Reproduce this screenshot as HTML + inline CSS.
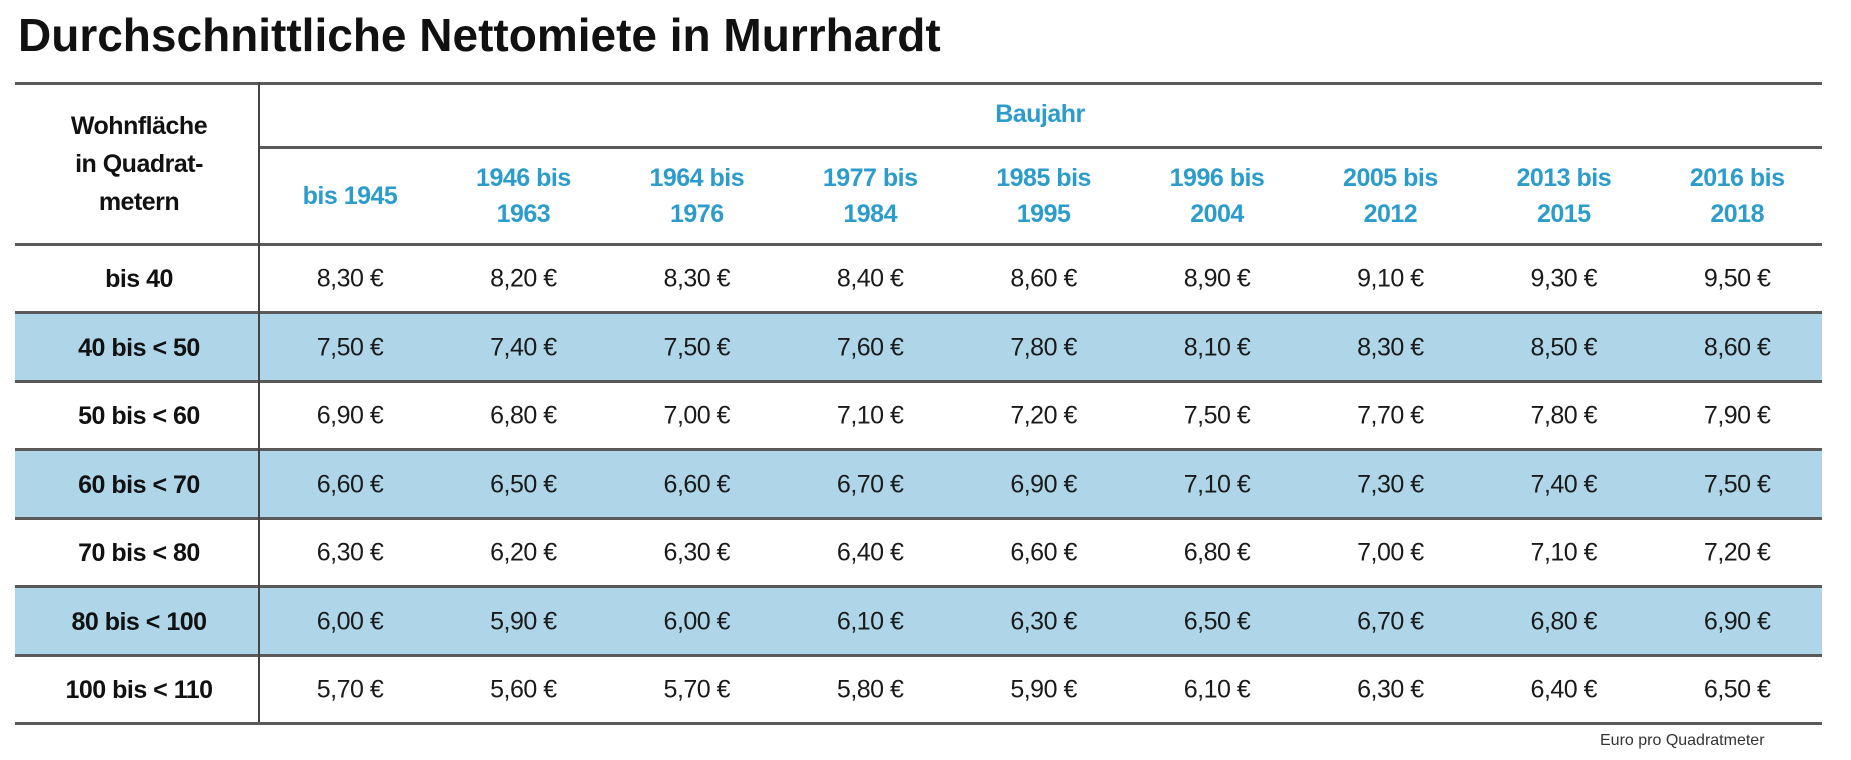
<!DOCTYPE html>
<html><head><meta charset="utf-8">
<style>
body{margin:0;width:1851px;height:760px;background:#fff;position:relative;overflow:hidden;font-family:"Liberation Sans",Arial,sans-serif;}
.abs{position:absolute;}
.hl{position:absolute;left:15px;width:1807px;height:3px;background:#5a5a5a;}
.band{position:absolute;left:15px;width:1807px;background:#aed6e8;}
.cell{position:absolute;transform:translate(-50%,-50%);white-space:nowrap;font-size:25px;color:#1a1a1a;letter-spacing:-0.5px;text-align:center;}
.hdr{position:absolute;transform:translate(-50%,-50%);white-space:nowrap;font-size:25px;color:#2b9ccc;font-weight:bold;text-align:center;line-height:36px;letter-spacing:-0.5px;}
.rl{position:absolute;transform:translate(-50%,-50%);white-space:nowrap;font-size:25px;font-weight:bold;color:#111;letter-spacing:-0.5px;text-align:center;line-height:38px;}
</style></head><body>
<div class="abs" style="left:18px;top:8px;font-size:46px;font-weight:bold;color:#111;letter-spacing:0px;">Durchschnittliche Nettomiete in Murrhardt</div>
<div id="table"></div>
<div class="hl" style="top:82px"></div>
<div class="hl" style="top:146px;left:259px;width:1563px"></div>
<div class="hl" style="top:243px"></div>
<div class="abs" style="left:258px;top:82px;width:2px;height:640px;background:#444"></div>
<div class="rl" style="left:139px;top:164px">Wohnfläche<br>in Quadrat-<br>metern</div>
<div class="hdr" style="left:1040px;top:114px">Baujahr</div>
<div class="abs" style="left:1600px;top:732px;font-size:16px;color:#333;">Euro pro Quadratmeter</div>
<script>
const columns=["bis 1945","1946 bis<br>1963","1964 bis<br>1976","1977 bis<br>1984","1985 bis<br>1995","1996 bis<br>2004","2005 bis<br>2012","2013 bis<br>2015","2016 bis<br>2018"];
const rows=["bis 40","40 bis < 50","50 bis < 60","60 bis < 70","70 bis < 80","80 bis < 100","100 bis < 110"];
const r0=[8.30,8.20,8.30,8.40,8.60,8.90,9.10,9.30,9.50];
const r1=[7.50,7.40,7.50,7.60,7.80,8.10,8.30,8.50,8.60];
const r2=[6.90,6.80,7.00,7.10,7.20,7.50,7.70,7.80,7.90];
const r3=[6.60,6.50,6.60,6.70,6.90,7.10,7.30,7.40,7.50];
const r4=[6.30,6.20,6.30,6.40,6.60,6.80,7.00,7.10,7.20];
const r5=[6.00,5.90,6.00,6.10,6.30,6.50,6.70,6.80,6.90];
const r6=[5.70,5.60,5.70,5.80,5.90,6.10,6.30,6.40,6.50];
const values=[r0,r1,r2,r3,r4,r5,r6];
const colX=i=>350+i*173.4;
const rowTop=i=>245+i*68.5;
const t=document.getElementById('table');
columns.forEach((c,i)=>{
 const d=document.createElement('div');d.className='hdr';
 
 
 d.style.left=colX(i)+'px';d.style.top='196px';d.innerHTML=c;t.appendChild(d);
});
rows.forEach((r,j)=>{
 const y=rowTop(j);
 if(j%2===1){const b=document.createElement('div');b.className='band';
  
  
  b.style.top=y+'px';b.style.height='68.5px';t.appendChild(b);}
 const l=document.createElement('div');l.className='hl';
 
 
 l.style.top=(y+66)+'px';t.appendChild(l);
 const lab=document.createElement('div');lab.className='rl';
 
 
 lab.style.left='139px';lab.style.top=(y+34)+'px';lab.textContent=r;t.appendChild(lab);
 values[j].forEach((v,i)=>{
  const c=document.createElement('div');c.className='cell';
  
  
  c.style.left=colX(i)+'px';c.style.top=(y+34)+'px';
  c.textContent=v.toFixed(2).replace('.',',')+' €';t.appendChild(c);
 });
});
</script>
</body></html>
